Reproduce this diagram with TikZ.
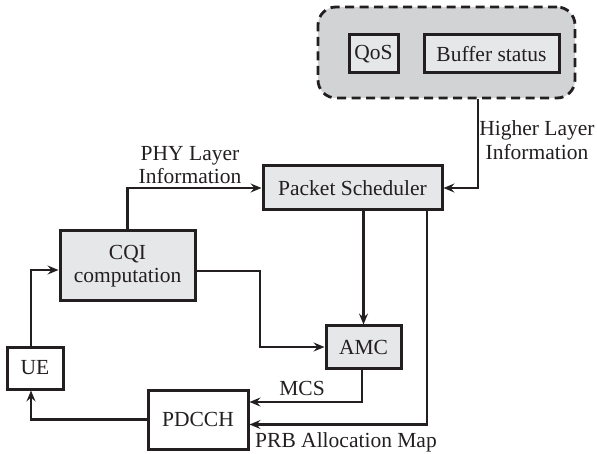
\documentclass[tikz,border=0pt]{standalone}
\usepackage{fontspec}
\setmainfont{Liberation Serif}
\usetikzlibrary{arrows.meta}
\definecolor{boxgray}{HTML}{E6E7E8}
\definecolor{grpgray}{HTML}{D2D3D5}
\definecolor{ink}{HTML}{231F20}
\begin{document}
\begin{tikzpicture}[x=1pt,y=-1pt,
  every node/.style={font=\fontsize{21.5}{23.5}\selectfont, text=ink},
  blk/.style={draw=ink, line width=3pt, fill=boxgray, inner sep=0pt},
  wblk/.style={blk, fill=white},
  arr/.style={draw=ink, line width=2.8pt, -{Stealth[length=11pt,width=9pt,inset=4pt]}},
  lbl/.style={align=center, inner sep=0pt}]
\useasboundingbox (0,0) rectangle (597,454);
\node[draw=ink, dashed, dash pattern=on 9pt off 5.5pt, line width=2.8pt, fill=grpgray,
      rounded corners=18pt, minimum width=257pt, minimum height=91pt] (grp) at (446.5,52.5) {};
\node[blk, minimum width=49pt, minimum height=38pt] (qos) at (373.5,54) {QoS};
\node[blk, minimum width=135pt, minimum height=38pt] (buf) at (491.5,54) {Buffer status};
\node[blk, minimum width=179pt, minimum height=44pt] (ps) at (352.5,188) {Packet Scheduler};
\node[blk, minimum width=135pt, minimum height=70pt, align=center] (cqi) at (127.5,266) {CQI\\computation};
\node[blk, minimum width=75pt, minimum height=42pt] (amc) at (363.5,347) {AMC};
\node[wblk, minimum width=56pt, minimum height=42pt] (ue) at (35,368) {UE};
\node[wblk, minimum width=100pt, minimum height=59pt] (pdcch) at (198,419.5) {PDCCH};
\coordinate (k1) at (260,0);
\draw[arr] ([xshift=31.5pt]grp.south) |- (ps.east);
\draw[arr] (cqi.north) |- (ps.west);
\draw[arr] (amc.north |- ps.south) -- (amc.north);
\draw[arr] ([yshift=-5pt]cqi.east) -| (k1 |- amc.west) -- (amc.west);
\draw[arr] ([xshift=-1.5pt]amc.south) |- ([yshift=17.5pt]pdcch.east);
\draw[arr] ([xshift=74.5pt]ps.south) |- ([yshift=-5pt]pdcch.east);
\draw[arr] (pdcch.west) -| ([xshift=-4pt]ue.south);
\draw[arr] ([xshift=-4pt]ue.north) |- ([yshift=-4pt]cqi.west);
\node[lbl] (hl) at (537,140) {Higher Layer\\Information};
\node[lbl] (phy) at (190,165) {PHY Layer\\Information};
\node[lbl] (mcs) at (302,388) {MCS};
\node[lbl] (prb) at (346,442) {PRB Allocation Map};
\end{tikzpicture}
\end{document}
